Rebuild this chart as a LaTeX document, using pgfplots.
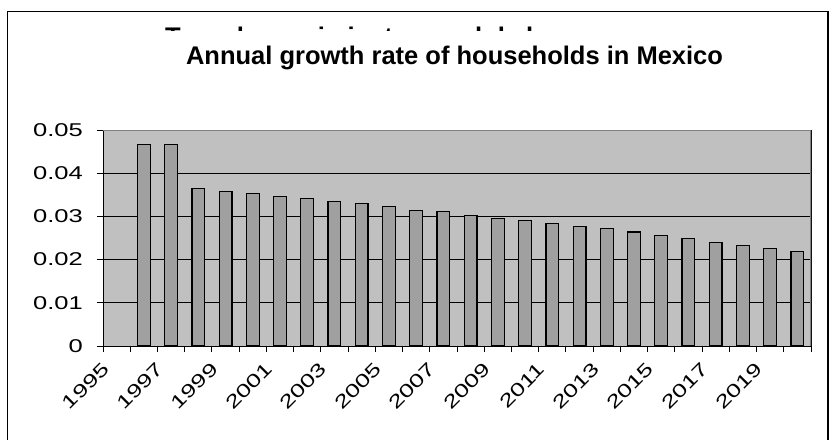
\documentclass[border=0pt]{standalone}
\usepackage{pgfplots}
\pgfplotsset{compat=1.18}
\usepackage{pgfplotstable}
\usepackage{fontspec}
\setmainfont{Liberation Sans}
\newfontfamily\tickfont[FakeStretch=1.38]{Liberation Sans}
\definecolor{plotbg}{HTML}{C0C0C0}
\definecolor{barfill}{HTML}{A0A0A0}
\definecolor{bordergray}{HTML}{808080}

\pgfplotstableread{
x y
1.5 0.0467
2.5 0.0467
3.5 0.0364
4.5 0.0357
5.5 0.0353
6.5 0.0346
7.5 0.0341
8.5 0.0334
9.5 0.0329
10.5 0.0323
11.5 0.0313
12.5 0.0311
13.5 0.0303
14.5 0.0296
15.5 0.0291
16.5 0.0283
17.5 0.0276
18.5 0.0272
19.5 0.0264
20.5 0.0255
21.5 0.0248
22.5 0.0240
23.5 0.0232
24.5 0.0225
25.5 0.0218
}\growth

\begin{document}
\begin{tikzpicture}
\useasboundingbox (0pt,0pt) rectangle (832pt,439pt);
\node[anchor=base west, inner sep=0pt, font=\fontsize{25.5}{30}\selectfont\bfseries] at (165pt,393pt) {Tasa de crecimiento anual de hogares};
\fill[white] (15pt,380pt) rectangle (820pt,408.3pt);
\node[anchor=base, inner sep=0pt, font=\fontsize{25.5}{30}\selectfont\bfseries] at (454.5pt,374pt) {Annual growth rate of households in Mexico};
\draw[line width=1.3pt] (7.5pt,-5pt) -- (7.5pt,427.3pt) -- (828pt,427.3pt) -- (828pt,-5pt);
\begin{axis}[
 at={(103pt,93pt)}, anchor=south west,
 scale only axis, width=708pt, height=216pt,
 xmin=0, xmax=26, ymin=0, ymax=0.05,
 axis background/.style={fill=plotbg},
 xtick={0,2,...,24},
 xticklabels={1995,1997,1999,2001,2003,2005,2007,2009,2011,2013,2015,2017,2019},
 minor xtick={1,3,...,25,26},
 ytick={0,0.01,0.02,0.03,0.04,0.05},
 yticklabels={0,0.01,0.02,0.03,0.04,0.05},
 scaled y ticks=false,
 tick pos=left,
 tick align=outside,
 major tick length=6pt, minor tick length=6pt,
 tick style={black, line width=1pt},
 minor tick style={black, line width=1pt},
 ymajorgrids, grid style={black, line width=0.8pt},
 axis line style={black, line width=1pt},
 ticklabel style={font=\tickfont\fontsize{18.5}{20}\selectfont},
 yticklabel shift=14pt,
 yticklabel style={anchor=east, inner sep=0pt},
 xticklabel style={anchor=north east, inner sep=0pt, yshift=-9pt, xshift=-2pt, rotate=45},
 ybar, bar width=0.47,
]
\addplot[fill=barfill, draw=black, line width=1.2pt] table[x=x,y=y]{\growth};
\draw[bordergray, line width=1.2pt] (rel axis cs:0,1) -- (rel axis cs:1,1) -- (rel axis cs:1,0);
\end{axis}
\end{tikzpicture}
\end{document}
